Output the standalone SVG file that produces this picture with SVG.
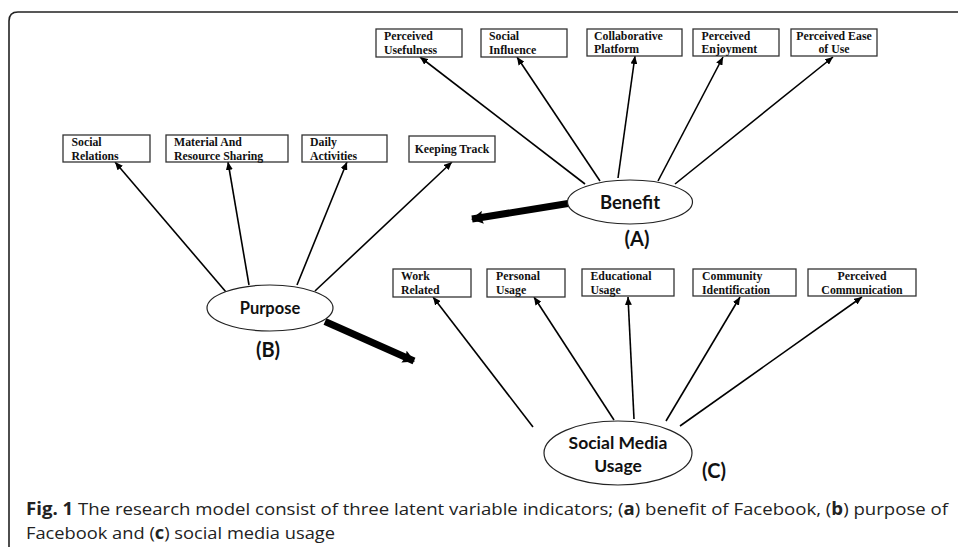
<svg xmlns="http://www.w3.org/2000/svg" width="958" height="549" viewBox="0 0 958 549">
<defs>
<style>
.box{fill:#fff;stroke:#333;stroke-width:1.3}
.bt{font-family:"Liberation Serif","Times New Roman",serif;font-weight:bold;font-size:11.8px;fill:#111}
.ell{fill:#fff;stroke:#222;stroke-width:1.2}
.et{font-family:Lato,"Liberation Sans",sans-serif;font-weight:bold;fill:#111;text-anchor:middle}
.lbl{font-family:Lato,"Liberation Sans",sans-serif;font-weight:bold;font-size:20px;fill:#111;text-anchor:middle}
.ln{stroke:#000;stroke-width:1.6;fill:none;marker-end:url(#ah)}
.thick{stroke:#000;stroke-width:7;fill:none;marker-end:url(#bh)}
.cap{font-family:"Open Sans","Liberation Sans",sans-serif;font-size:17px;fill:#222}
</style>
<marker id="ah" markerUnits="userSpaceOnUse" markerWidth="8" markerHeight="7" refX="8" refY="3.5" orient="auto">
<path d="M0,0 L8,3.5 L0,7 Z" fill="#000"/>
</marker>
<marker id="bh" markerUnits="userSpaceOnUse" markerWidth="12" markerHeight="13" refX="11" refY="6.5" orient="auto">
<path d="M0,0 L12,6.5 L0,13 L2,6.5 Z" fill="#000"/>
</marker>
</defs>
<rect width="958" height="549" fill="#fff"/>
<path d="M9,547 V21 Q9,12 18,12 H958" fill="none" stroke="#222" stroke-width="1.6"/>

<g id="connectors">
<line class="ln" x1="585" y1="184" x2="420" y2="57"/>
<line class="ln" x1="600" y1="181" x2="517" y2="57"/>
<line class="ln" x1="618" y1="178" x2="635" y2="56"/>
<line class="ln" x1="658" y1="181" x2="723" y2="57"/>
<line class="ln" x1="675" y1="184" x2="833" y2="57"/>
<line class="ln" x1="226" y1="292" x2="115" y2="162"/>
<line class="ln" x1="249" y1="285" x2="228" y2="162"/>
<line class="ln" x1="297" y1="285" x2="347" y2="162"/>
<line class="ln" x1="315" y1="291" x2="452" y2="162"/>
<line class="ln" x1="533" y1="427" x2="433" y2="297"/>
<line class="ln" x1="614" y1="420" x2="534" y2="297"/>
<line class="ln" x1="634" y1="419" x2="628" y2="297"/>
<line class="ln" x1="666" y1="421" x2="740" y2="297"/>
<line class="ln" x1="680" y1="426" x2="862" y2="297"/>
<line class="thick" x1="568" y1="203.5" x2="472" y2="219"/>
<line class="thick" x1="325" y1="321.5" x2="414" y2="361"/>
</g>

<g id="perceived-usefulness"><rect class="box" x="376" y="29" width="86" height="28"/><text class="bt" x="384" y="39.5">Perceived</text><text class="bt" x="384" y="53.5">Usefulness</text></g>
<g id="social-influence"><rect class="box" x="481" y="29" width="86" height="28"/><text class="bt" x="489" y="39.5">Social</text><text class="bt" x="489" y="53.5">Influence</text></g>
<g id="collaborative-platform"><rect class="box" x="587" y="29" width="95" height="27"/><text class="bt" x="594" y="39.5">Collaborative</text><text class="bt" x="594" y="53">Platform</text></g>
<g id="perceived-enjoyment"><rect class="box" x="693" y="29" width="86" height="27"/><text class="bt" x="701.5" y="39.5">Perceived</text><text class="bt" x="701.5" y="53">Enjoyment</text></g>
<g id="perceived-ease-of-use"><rect class="box" x="791" y="29" width="86" height="27"/><text class="bt" x="834" y="39.5" text-anchor="middle">Perceived Ease</text><text class="bt" x="834" y="53" text-anchor="middle">of Use</text></g>

<g id="social-relations"><rect class="box" x="63" y="135" width="87" height="27"/><text class="bt" x="71.5" y="146">Social</text><text class="bt" x="71.5" y="160">Relations</text></g>
<g id="material-sharing"><rect class="box" x="166" y="135" width="122" height="27"/><text class="bt" x="174" y="146">Material And</text><text class="bt" x="174" y="160">Resource Sharing</text></g>
<g id="daily-activities"><rect class="box" x="302" y="135" width="85" height="27"/><text class="bt" x="310" y="146">Daily</text><text class="bt" x="310" y="160">Activities</text></g>
<g id="keeping-track"><rect class="box" x="409" y="136" width="86" height="26"/><text class="bt" x="452" y="153" text-anchor="middle">Keeping Track</text></g>

<g id="work-related"><rect class="box" x="393" y="269" width="78" height="28"/><text class="bt" x="401" y="280">Work</text><text class="bt" x="401" y="294">Related</text></g>
<g id="personal-usage"><rect class="box" x="487" y="269" width="78" height="28"/><text class="bt" x="496" y="280">Personal</text><text class="bt" x="496" y="294">Usage</text></g>
<g id="educational-usage"><rect class="box" x="582" y="269" width="92" height="27"/><text class="bt" x="590.5" y="280">Educational</text><text class="bt" x="590.5" y="294">Usage</text></g>
<g id="community-identification"><rect class="box" x="693" y="269" width="103" height="27"/><text class="bt" x="702" y="280">Community</text><text class="bt" x="702" y="294">Identification</text></g>
<g id="perceived-communication"><rect class="box" x="808" y="269" width="108" height="27"/><text class="bt" x="862" y="280" text-anchor="middle">Perceived</text><text class="bt" x="862" y="294" text-anchor="middle">Communication</text></g>

<g id="benefit"><ellipse class="ell" cx="630" cy="202" rx="62.5" ry="22"/><text class="et" x="630" y="208.5" font-size="18.5">Benefit</text><text class="lbl" x="637" y="246">(A)</text></g>
<g id="purpose"><ellipse class="ell" cx="270" cy="308" rx="63" ry="23"/><text class="et" x="270" y="314" font-size="16.5">Purpose</text><text class="lbl" x="268" y="357">(B)</text></g>
<g id="social-media-usage"><ellipse class="ell" cx="618" cy="453" rx="74" ry="32"/><text class="et" x="618" y="449" font-size="17.5">Social Media</text><text class="et" x="618" y="472" font-size="17.5">Usage</text><text class="lbl" x="714" y="478">(C)</text></g>

<g id="caption">
<text class="cap" x="26" y="515" textLength="922" lengthAdjust="spacingAndGlyphs"><tspan font-weight="bold">Fig. 1</tspan> The research model consist of three latent variable indicators; (<tspan font-weight="bold">a</tspan>) benefit of Facebook, (<tspan font-weight="bold">b</tspan>) purpose of</text>
<text class="cap" x="26" y="539" textLength="309" lengthAdjust="spacingAndGlyphs">Facebook and (<tspan font-weight="bold">c</tspan>) social media usage</text>
</g>
</svg>
